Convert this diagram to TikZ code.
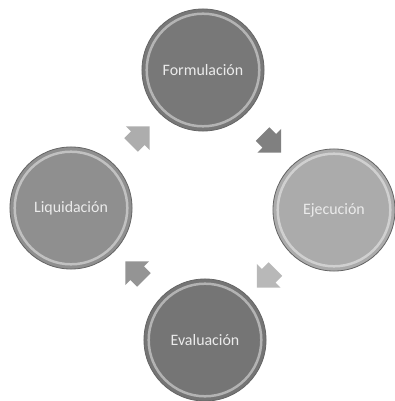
\documentclass[tikz,border=0pt]{standalone}
\usepackage{fontspec}
\setmainfont{Carlito}
\usetikzlibrary{shapes.arrows,calc}
\definecolor{formgray}{gray}{0.47}
\definecolor{ejecgray}{gray}{0.67}
\definecolor{evalgray}{gray}{0.46}
\definecolor{liqgray}{gray}{0.56}
\begin{document}
\begin{tikzpicture}[x=0.254mm, y=-0.254mm,
	stage/.style={circle, minimum size=31mm, inner sep=0pt, draw=black!60, line width=0.6pt,
		text=white!92!black, font=\fontsize{11.5}{13}\selectfont,
		path picture={\draw[white, opacity=0.45, line width=1.8pt] (path picture bounding box.center) circle (14.3mm);}},
	cyclearrow/.style={single arrow, draw=none, minimum width=8.6mm, inner sep=2.05mm,
		single arrow head extend=1.6mm}]
	\useasboundingbox (0,0) rectangle (395,401);

	% stages of the cycle
	\node[stage, fill=formgray](form) at (203,70){Formulación};
	\node[stage, fill=ejecgray](ejec) at (334,210){Ejecución};
	\node[stage, fill=evalgray](eval) at (205,340){Evaluación};
	\node[stage, fill=liqgray](liq) at (71,208){Liquidación};

	% block arrows between stages
	\node[cyclearrow, fill=black!50, rotate=-45](formejec) at ($(form)!0.5!(ejec)$){};
	\node[cyclearrow, fill=black!28, rotate=-135](ejeceval) at ($(ejec)!0.5!(eval)$){};
	\node[cyclearrow, fill=black!42, rotate=135](evalliq) at ($(eval)!0.5!(liq)$){};
	\node[cyclearrow, fill=black!32, rotate=45](liqform) at ($(liq)!0.5!(form)$){};

\end{tikzpicture}
\end{document}
